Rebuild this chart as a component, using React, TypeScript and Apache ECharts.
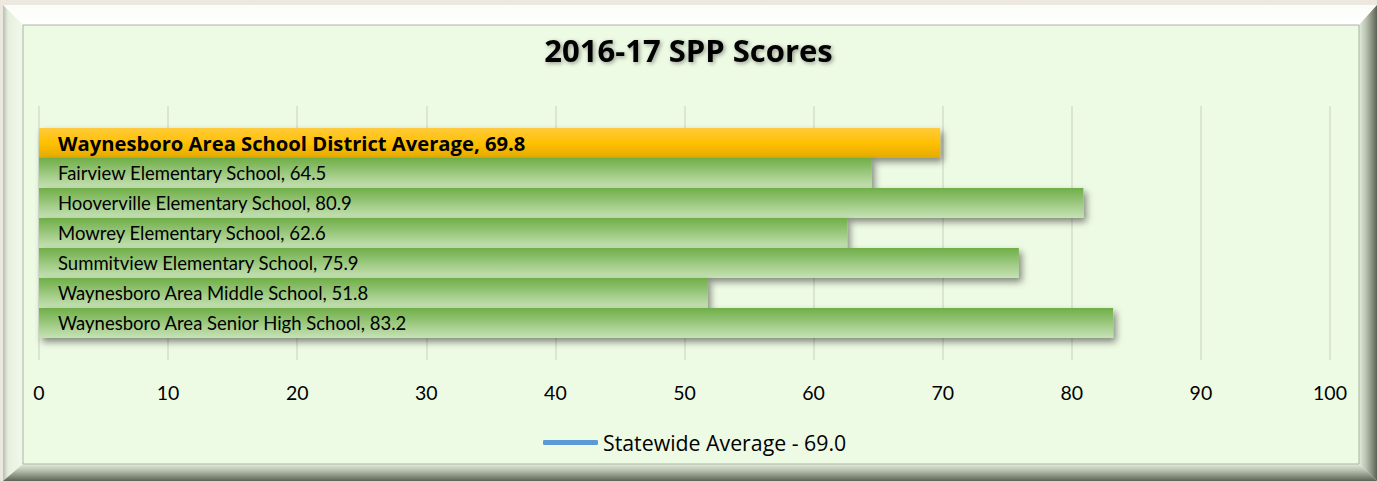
import React, { useEffect, useRef } from "react";
import * as echarts from "echarts";

const categories = [
  "Waynesboro Area School District Average",
  "Fairview Elementary School",
  "Hooverville Elementary School",
  "Mowrey Elementary School",
  "Summitview Elementary School",
  "Waynesboro Area Middle School",
  "Waynesboro Area Senior High School",
];
const scores = [69.8, 64.5, 80.9, 62.6, 75.9, 51.8, 83.2];
const statewideAverage = 69.0;
const statewideName = "Statewide Average - 69.0";
const xTicks = { min: 0, max: 100, interval: 10 };

const FONT = "Lato";
const FONT2 = "Open Sans";

export default function App() {
  const ref = useRef<HTMLDivElement>(null);
  useEffect(() => {
    if (!ref.current) return;
    const chart = echarts.init(ref.current, null, { renderer: "svg" });
    const W = 1377;
    const H = 481;
    const green = new echarts.graphic.LinearGradient(0, 0, 0, 1, [
      { offset: 0, color: "#6fae47" },
      { offset: 1, color: "#c7e2b6" },
    ]);
    const gold = new echarts.graphic.LinearGradient(0, 0, 0, 1, [
      { offset: 0, color: "#ffcb3c" },
      { offset: 0.5, color: "#ffc000" },
      { offset: 1, color: "#e4aa00" },
    ]);
    const barData = scores.map((v, i) => ({
      value: v,
      itemStyle: { color: i === 0 ? gold : green },
      label: i === 0 ? { fontWeight: "bold", fontFamily: FONT2, fontSize: 20.2 } : {},
    }));
    const option: any = {
      animation: false,
      backgroundColor: "#ece8e0",
      textStyle: { fontFamily: FONT },
      graphic: [
        { type: "rect", z: -10, silent: true, shape: { x: 3, y: 5, width: W - 3, height: H - 5 }, style: { fill: "#eef6e6" } },
        { type: "polygon", z: -9, silent: true, shape: { points: [[3, 5], [W, 5], [1359, 25], [23, 25]] },
          style: { fill: new echarts.graphic.LinearGradient(0, 0, 0, 1, [{ offset: 0, color: "#fbfdf8" }, { offset: 1, color: "#ffffff" }]) } },
        { type: "polygon", z: -9, silent: true, shape: { points: [[3, 5], [23, 25], [23, 464], [3, H]] },
          style: { fill: new echarts.graphic.LinearGradient(0, 0, 1, 0, [{ offset: 0, color: "#b9bdb2" }, { offset: 0.25, color: "#e6efdd" }, { offset: 1, color: "#f2f9ec" }]) } },
        { type: "polygon", z: -9, silent: true, shape: { points: [[W, 5], [W, H], [1359, 464], [1359, 25]] },
          style: { fill: new echarts.graphic.LinearGradient(0, 0, 1, 0, [{ offset: 0, color: "#e3ecda" }, { offset: 0.4, color: "#b8c1b0" }, { offset: 1, color: "#5c6356" }]) } },
        { type: "polygon", z: -9, silent: true, shape: { points: [[3, H], [23, 464], [1359, 464], [W, H]] },
          style: { fill: new echarts.graphic.LinearGradient(0, 0, 0, 1, [{ offset: 0, color: "#e3ecda" }, { offset: 0.4, color: "#b5bdac" }, { offset: 1, color: "#5d6457" }]) } },
        { type: "rect", z: -8, silent: true, shape: { x: 23, y: 25, width: 1336, height: 439 },
          style: { fill: "#eefbe4", stroke: "#aab3a3", lineWidth: 1 } },
      ],
      title: {
        text: "2016-17 SPP Scores",
        left: "center",
        top: 29,
        textStyle: {
          fontFamily: FONT2,
          fontSize: 31,
          fontWeight: "bold",
          color: "#000",
          textShadowColor: "rgba(0,0,0,0.4)",
          textShadowBlur: 4,
          textShadowOffsetX: 1.5,
          textShadowOffsetY: 1.5,
        },
      },
      legend: {
        left: 543,
        top: 432,
        padding: 0,
        itemWidth: 55,
        itemHeight: 5,
        itemGap: 5,
        data: [{ name: statewideName, icon: "roundRect" }],
        textStyle: { fontFamily: FONT2, fontSize: 21.3, color: "#000", padding: [0, 0, 0, 0] },
      },
      grid: [
        { left: 39, right: W - 1330, top: 106, bottom: H - 360 },
        { left: 39, right: W - 1330, top: 128, height: 210 },
      ],
      xAxis: [
        {
          gridIndex: 0,
          type: "value",
          min: xTicks.min,
          max: xTicks.max,
          interval: xTicks.interval,
          axisLine: { show: false },
          axisTick: { show: false },
          splitLine: { show: true, lineStyle: { color: "#d6dcce", width: 1.5 } },
          axisLabel: { color: "#000", fontSize: 19.5, fontFamily: FONT, margin: 22 },
        },
        {
          gridIndex: 1,
          type: "value",
          min: xTicks.min,
          max: xTicks.max,
          show: false,
          splitLine: { show: false },
        },
      ],
      yAxis: [
        { gridIndex: 0, type: "value", min: 0, max: 1, show: false, splitLine: { show: false } },
        { gridIndex: 1, type: "category", data: categories, inverse: true, show: false },
      ],
      series: [
        {
          type: "bar",
          xAxisIndex: 1,
          yAxisIndex: 1,
          data: barData,
          barWidth: "100%",
          barCategoryGap: 0,
          itemStyle: {
            shadowBlur: 7,
            shadowColor: "rgba(0,0,0,0.45)",
            shadowOffsetX: 3,
            shadowOffsetY: 4,
          },
          label: {
            show: true,
            position: "insideLeft",
            distance: 19,
            color: "#000",
            fontSize: 18.5,
            fontFamily: FONT,
            formatter: (p: any) => `${p.name}, ${Number(p.value).toFixed(1)}`,
          },
          z: 2,
        },
        {
          type: "line",
          name: statewideName,
          xAxisIndex: 0,
          yAxisIndex: 0,
          data: [
            [statewideAverage, 0.02],
            [statewideAverage, 0.984],
          ],
          symbol: "none",
          color: "#5b9bd5",
          lineStyle: {
            color: "#5b9bd5",
            width: 4.5,
            cap: "round",
            shadowBlur: 5,
            shadowColor: "rgba(0,0,0,0.4)",
            shadowOffsetX: 2,
            shadowOffsetY: 2,
          },
          z: 5,
        },
      ],
    };
    chart.setOption(option);
    return () => chart.dispose();
  }, []);
  return (
    <div
      ref={ref}
      style={{ position: "fixed", left: 0, top: 0, width: 1377, height: 481 }}
    />
  );
}
